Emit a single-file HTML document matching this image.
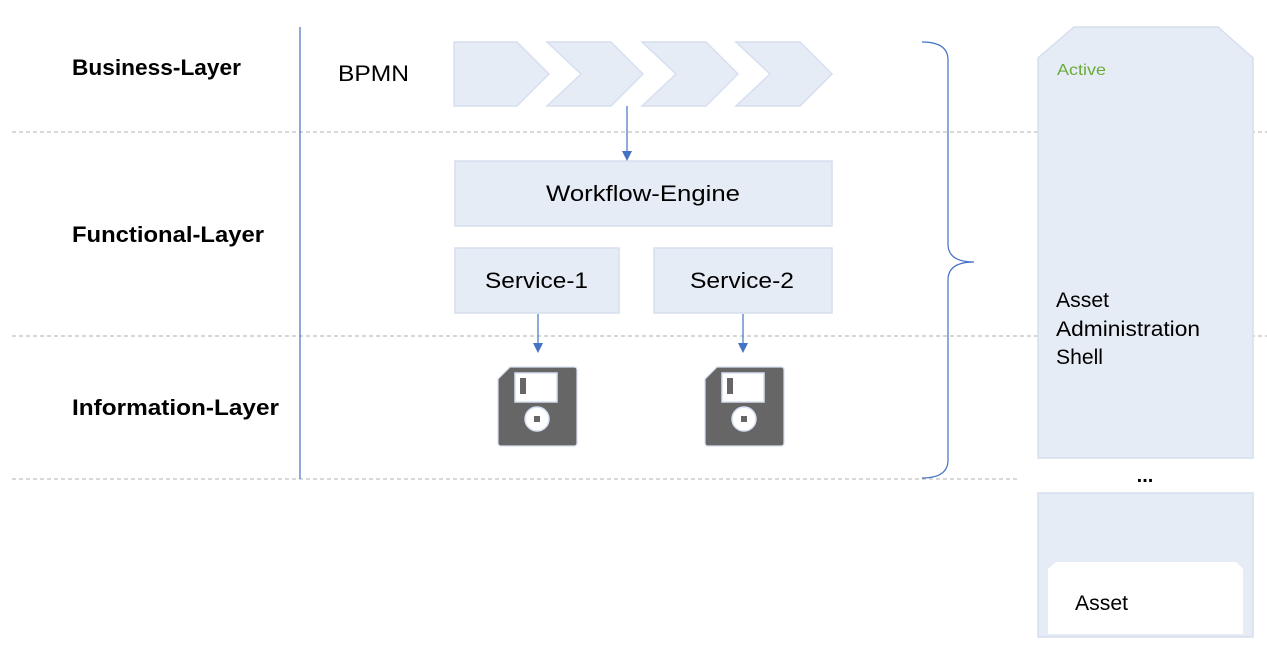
<!DOCTYPE html>
<html><head><style>
body{margin:0;background:#fff;}
svg{display:block;font-family:"Liberation Sans",sans-serif;}
</style></head><body>
<svg width="1267" height="645" viewBox="0 0 1267 645">
<g stroke="#b0b0b0" stroke-dasharray="4,3" stroke-width="1">
<line x1="12" y1="132" x2="1267" y2="132"/>
<line x1="12" y1="336" x2="1267" y2="336"/>
<line x1="12" y1="479" x2="1020" y2="479"/>
</g>
<line x1="300" y1="27" x2="300" y2="479" stroke="#4472C4" stroke-width="1.2"/>
<g font-weight="bold" font-size="22" fill="#000" lengthAdjust="spacingAndGlyphs">
<text x="72" y="75" textLength="169" lengthAdjust="spacingAndGlyphs">Business-Layer</text>
<text x="72" y="242" textLength="192" lengthAdjust="spacingAndGlyphs">Functional-Layer</text>
<text x="72" y="415" textLength="207" lengthAdjust="spacingAndGlyphs">Information-Layer</text>
</g>
<text x="338" y="81" font-size="22" textLength="71" lengthAdjust="spacingAndGlyphs">BPMN</text>
<g fill="#E6ECF6" stroke="#D6DFEF" stroke-width="1.5">
<path d="M454,42 L517,42 L549,74 L517,106 L454,106 z"/>
<path d="M547,42 L611,42 L643,74 L611,106 L547,106 L581,74 z"/>
<path d="M642,42 L706,42 L738,74 L706,106 L642,106 L676,74 z"/>
<path d="M736,42 L800,42 L832,74 L800,106 L736,106 L770,74 z"/>
<rect x="455" y="161" width="377" height="65"/>
<rect x="455" y="248" width="164" height="65"/>
<rect x="654" y="248" width="178" height="65"/>
</g>
<g font-size="22">
<text x="546" y="201" textLength="194" lengthAdjust="spacingAndGlyphs">Workflow-Engine</text>
<text x="485" y="288" textLength="103" lengthAdjust="spacingAndGlyphs">Service-1</text>
<text x="690" y="288" textLength="104" lengthAdjust="spacingAndGlyphs">Service-2</text>
</g>
<g stroke="#4472C4" stroke-width="1.2">
<line x1="627" y1="106" x2="627" y2="152"/>
<line x1="538" y1="314" x2="538" y2="344"/>
<line x1="743" y1="314" x2="743" y2="344"/>
</g>
<g fill="#4472C4">
<path d="M622,151 L632,151 L627,161 z"/>
<path d="M533,343 L543,343 L538,353 z"/>
<path d="M738,343 L748,343 L743,353 z"/>
</g>
<g id="f">
<path d="M510,367 L574,367 Q577,367 577,370 L577,443 Q577,446 574,446 L501,446 Q498,446 498,443 L498,379 z" fill="#666" stroke="#D6DFEF" stroke-width="1.2"/>
<rect x="515" y="373" width="42" height="29" fill="#fff" stroke="#D6DFEF" stroke-width="1.5"/>
<rect x="520" y="378" width="6" height="16" fill="#666"/>
<circle cx="537" cy="419" r="12" fill="#fff" stroke="#D6DFEF" stroke-width="1.5"/>
<rect x="534" y="416" width="6" height="6" fill="#666"/>
</g>
<use href="#f" transform="translate(207,0)"/>
<path d="M922,42 Q948,42 948,60 L948,244 Q948,262 974,262 Q948,262 948,280 L948,460 Q948,478 922,478" fill="none" stroke="#4472C4" stroke-width="1.2"/>
<path d="M1074,27 L1218,27 L1253,58 L1253,458 L1038,458 L1038,58 z" fill="#E6ECF6" stroke="#D6DFEF" stroke-width="1.5"/>
<rect x="1038" y="493" width="215" height="144" fill="#E6ECF6" stroke="#D6DFEF" stroke-width="1.5"/>
<path d="M1056,562 L1236,562 L1243,569 L1243,634 L1048,634 L1048,569 z" fill="#fff"/>
<text x="1057" y="75" font-size="16" fill="#6aaa3a" textLength="49" lengthAdjust="spacingAndGlyphs">Active</text>
<g font-size="21">
<text x="1056" y="307" textLength="53" lengthAdjust="spacingAndGlyphs">Asset</text>
<text x="1056" y="336" textLength="144" lengthAdjust="spacingAndGlyphs">Administration</text>
<text x="1056" y="364" textLength="47" lengthAdjust="spacingAndGlyphs">Shell</text>
<text x="1075" y="610" textLength="53" lengthAdjust="spacingAndGlyphs">Asset</text>
</g>
<text x="1145" y="482" font-size="20" font-weight="bold" text-anchor="middle">...</text>
</svg>
</body></html>
